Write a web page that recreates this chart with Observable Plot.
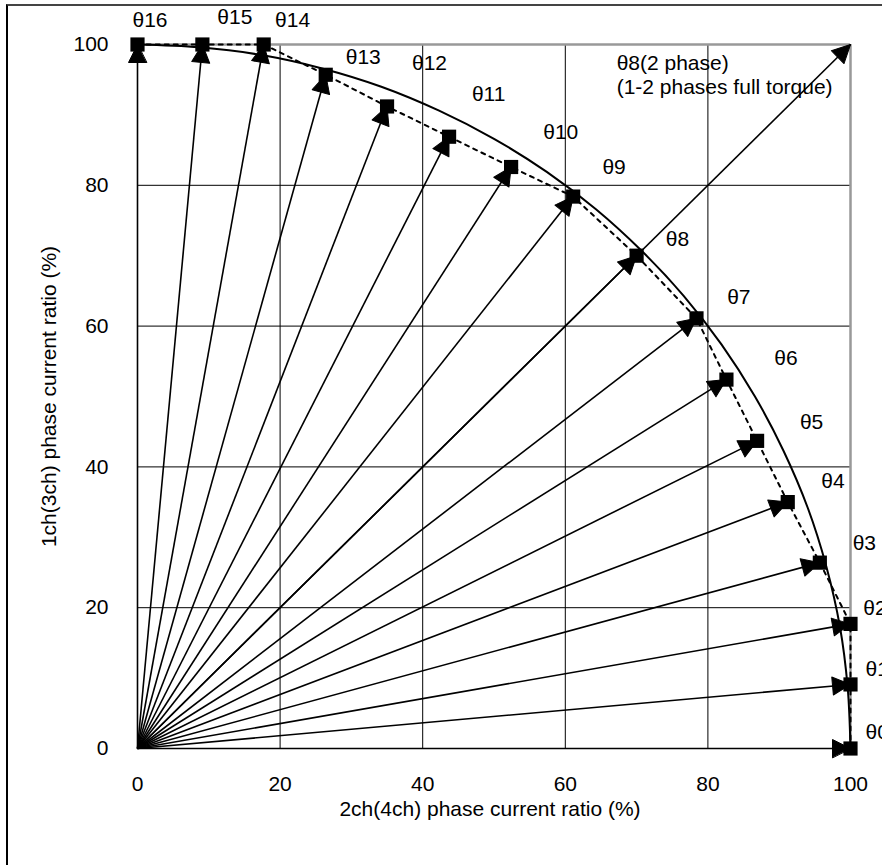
<!DOCTYPE html>
<html><head><meta charset="utf-8">
<script src="https://cdn.jsdelivr.net/npm/d3@7"></script>
<script src="https://cdn.jsdelivr.net/npm/@observablehq/plot@0.6"></script>
<style>
body{margin:0;background:#fff;}
#wrap{position:relative;width:882px;height:865px;overflow:hidden;background:#fff;}
#frame{position:absolute;left:6px;top:4px;width:2000px;height:2000px;border-top:2px solid #444;border-left:2px solid #000;pointer-events:none;}
</style></head><body><div id="wrap"><div id="frame"></div></div>
<script>
// step names and current ratios (%)
const steps = ["θ0","θ1","θ2","θ3","θ4","θ5","θ6","θ7","θ8","θ9","θ10","θ11","θ12","θ13","θ14","θ15","θ16"];
const ch2 = [100,100,100,95.7,91.2,86.9,82.6,78.4,70,61.1,52.4,43.7,35,26.4,17.7,9.1,0];
const ch1 = [0,9.1,17.7,26.4,35,43.7,52.4,61.1,70,78.4,82.6,86.9,91.2,95.7,100,100,100];
// 2-phase full torque vector
const fullX = [100];
const fullY = [100];
// reference circle (radius 100) points
const arcX = [100,99.6,98.5,96.6,94.0,90.6,86.6,81.9,76.6,70.7,64.3,57.4,50.0,42.3,34.2,25.9,17.4,8.7,0];
const arcY = [0,8.7,17.4,25.9,34.2,42.3,50.0,57.4,64.3,70.7,76.6,81.9,86.6,90.6,94.0,96.6,98.5,99.6,100];
// tick values
const ticks = [0,20,40,60,80,100];
const gridTicks = [20,40,60,80];
// label anchor positions (data coordinates)
const labelText = ["θ0","θ1","θ2","θ3","θ4","θ5","θ6","θ7","θ8","θ9","θ10","θ11","θ12","θ13","θ14","θ15","θ16","θ8(2 phase)","(1-2 phases full torque)"];
const labelX = [102.1,102.1,101.8,100.3,95.9,92.9,89.3,82.7,74.1,65.2,56.9,46.9,38.5,29.2,19.3,11.2,-0.7,67.2,67.2];
const labelY = [2.3,11.2,19.9,29.1,37.9,46.3,55.5,64.1,72.3,82.5,87.5,92.9,97.3,98.2,103.4,103.8,103.4,97.4,93.9];

const pts = steps.map((s,i)=>({name:s, x:ch2[i], y:ch1[i]}));
const vecs = pts.concat(fullX.map((x,i)=>({name:"full", x, y:fullY[i]})))
  .map(d=>({...d, rot: Math.atan2(d.x*7.13, d.y*7.04)*180/Math.PI}));
const arc = arcX.map((x,i)=>({x, y:arcY[i]}));
const labels = labelText.map((t,i)=>({t, x:labelX[i], y:labelY[i]}));

const headShape = {draw(ctx, l, r){ ctx.moveTo(0,-l); ctx.lineTo(-r,0); ctx.lineTo(r,0); ctx.closePath(); }};
const FS = 21;

const chart = Plot.plot({
  width: 882, height: 865,
  marginLeft: 137, marginRight: 32, marginTop: 44, marginBottom: 117,
  style: {fontFamily: "'Liberation Sans', Arial, sans-serif", fontSize: FS + "px", background: "transparent", color: "#000"},
  x: {domain: [0,100]},
  y: {domain: [0,100]},
  marks: [
    Plot.ruleX(gridTicks, {stroke: "#000", strokeWidth: 1}),
    Plot.ruleY(gridTicks, {stroke: "#000", strokeWidth: 1}),
    Plot.ruleX([100], {stroke: "#999", strokeWidth: 2.5}),
    Plot.ruleY([100], {stroke: "#999", strokeWidth: 2.5}),
    Plot.axisX(ticks, {tickSize: 0, tickPadding: 28, label: null, fontSize: FS}),
    Plot.axisY(ticks, {tickSize: 0, tickPadding: 29, label: null, fontSize: FS}),
    Plot.text(["2ch(4ch) phase current ratio (%)"], {frameAnchor: "bottom", lineAnchor: "middle", textAnchor: "middle", dx: -4, dy: 61, fontSize: FS}),
    Plot.text(["1ch(3ch) phase current ratio (%)"], {frameAnchor: "left", lineAnchor: "middle", textAnchor: "middle", dx: -88, rotate: -90, fontSize: FS}),
    Plot.line(arc, {x: "x", y: "y", curve: "catmull-rom", stroke: "#000", strokeWidth: 2}),
    Plot.line(pts, {x: "x", y: "y", stroke: "#000", strokeWidth: 2, strokeDasharray: "4,5"}),
    Plot.link(vecs, {x1: () => 0, y1: () => 0, x2: "x", y2: "y", stroke: "#000", strokeWidth: 1.6}),
    Plot.vector(vecs, {x: "x", y: "y", rotate: "rot", length: 18, r: 9, anchor: "end", shape: headShape, fill: "#000", stroke: "#000", strokeWidth: 1}),
    Plot.dot(pts, {x: "x", y: "y", symbol: "square", r: 8, fill: "#000", stroke: "none"}),
    Plot.text(labels, {x: "x", y: "y", text: "t", textAnchor: "start", fontSize: FS, clip: false})
  ]
});
document.getElementById("wrap").insertBefore(chart, document.getElementById("frame"));
chart.style.position = "absolute"; chart.style.left = "0"; chart.style.top = "0";
</script></body></html>
